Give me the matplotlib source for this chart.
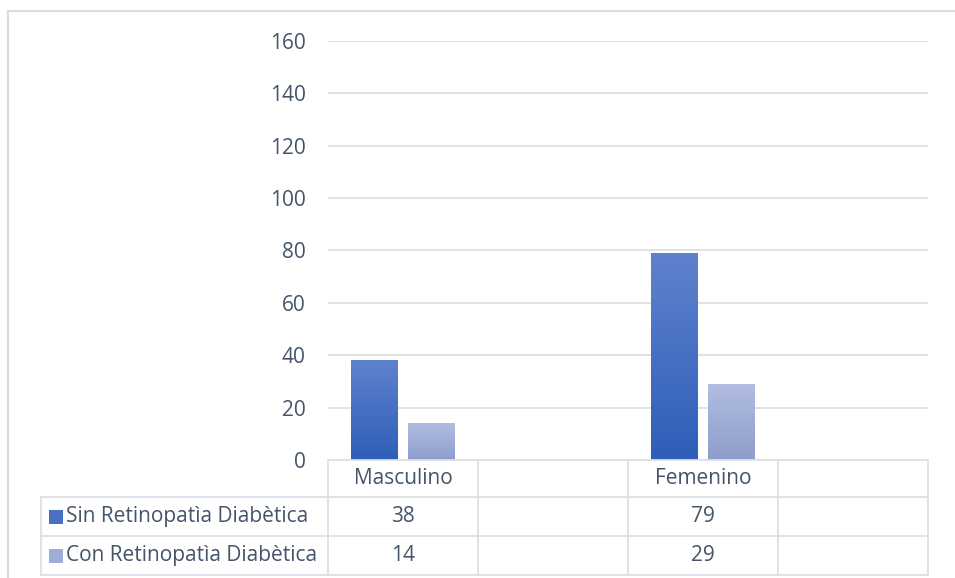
import numpy as np
import matplotlib.pyplot as plt
from matplotlib.colors import LinearSegmentedColormap
from matplotlib.lines import Line2D
from matplotlib.patches import Rectangle

categories = ['Masculino', '', 'Femenino', '']
series_names = ['Sin Retinopatìa Diabètica', 'Con Retinopatìa Diabètica']
sin_rd = [38, None, 79, None]
con_rd = [14, None, 29, None]
yticks = [0, 20, 40, 60, 80, 100, 120, 140, 160]

W, H = 955, 578
TXT = '#44546A'
GRID = '#DCDFE5'
FS = 15
plt.rcParams['font.family'] = ['Open Sans', 'DejaVu Sans']

fig = plt.figure(figsize=(W / 100, H / 100), dpi=100)

def fx(px):
    return px / W

def fy(py):
    return 1 - py / H

# plot area in pixel terms
left, right, top, bottom = 328, 928, 41, 460
ax = fig.add_axes([fx(left), fy(bottom), fx(right - left), fy(top) - fy(bottom)])
for s in ax.spines.values():
    s.set_visible(False)
ax.set_xticks([])
ax.set_yticks(yticks)
ax.tick_params(axis='y', length=0, pad=16, labelsize=FS, labelcolor=TXT)
ax.yaxis.grid(True, color=GRID, lw=1.3)
ax.set_axisbelow(True)

grad_sin = LinearSegmentedColormap.from_list('sin', ['#2E5EB9', '#5F82CD'])
grad_con = LinearSegmentedColormap.from_list('con', ['#8E9CCB', '#B1BEE1'])

width = 0.313
offset = 0.19
grad = np.linspace(0, 1, 256).reshape(-1, 1)
for vals, cmap, sign in [(sin_rd, grad_sin, -1), (con_rd, grad_con, 1)]:
    for i, v in enumerate(vals):
        if v is None:
            continue
        x0 = i + sign * offset - width / 2
        bar = ax.bar(i + sign * offset, v, width=width, color='none', zorder=2)[0]
        im = ax.imshow(grad, cmap=cmap, origin='lower', aspect='auto',
                       extent=[x0, x0 + width, 0, v], zorder=2)
        im.set_clip_path(bar)
ax.set_xlim(-0.5, len(categories) - 0.5)
ax.set_ylim(0, 160)

# data table under the plot
row_edges = [460, 497, 536, 575]
col_edges = [left + k * 150 for k in range(len(categories) + 1)]
tab_left = 41
lw = 1.3
def hline(y, x0, x1):
    fig.add_artist(Line2D([fx(x0), fx(x1)], [fy(y), fy(y)], color=GRID, lw=lw))

def vline(x, y0, y1):
    fig.add_artist(Line2D([fx(x), fx(x)], [fy(y0), fy(y1)], color=GRID, lw=lw))

hline(row_edges[0], left, right)
for y in row_edges[1:]:
    hline(y, tab_left, right)
vline(tab_left, row_edges[1], row_edges[3])
for x in col_edges:
    vline(x, row_edges[0], row_edges[3])

for k, cat in enumerate(categories):
    cx = (col_edges[k] + col_edges[k + 1]) / 2
    cy = (row_edges[0] + row_edges[1]) / 2
    fig.text(fx(cx), fy(cy), cat, ha='center', va='center', fontsize=FS, color=TXT)

for r, (name, vals, cmap) in enumerate([(series_names[0], sin_rd, grad_sin),
                                         (series_names[1], con_rd, grad_con)]):
    cy = (row_edges[r + 1] + row_edges[r + 2]) / 2
    fig.add_artist(Rectangle((fx(49), fy(cy + 7)), fx(14), fy(cy - 7) - fy(cy + 7),
                             facecolor=cmap(0.5), edgecolor='none'))
    fig.text(fx(66), fy(cy), name, ha='left', va='center', fontsize=FS, color=TXT)
    for k, v in enumerate(vals):
        if v is None:
            continue
        cx = (col_edges[k] + col_edges[k + 1]) / 2
        fig.text(fx(cx), fy(cy), str(v), ha='center', va='center', fontsize=FS, color=TXT)

# chart frame
fig.add_artist(Line2D([fx(8), fx(955)], [fy(11), fy(11)], color='#D9DCE1', lw=1.5))
fig.add_artist(Line2D([fx(8), fx(8)], [fy(11), fy(578)], color='#D9DCE1', lw=1.5))

fig.savefig('out.png', dpi=100)
